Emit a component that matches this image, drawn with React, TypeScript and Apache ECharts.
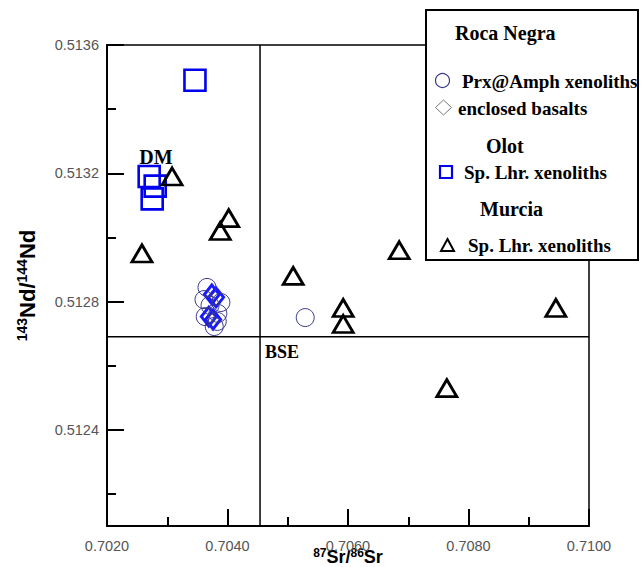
import React, { useEffect, useRef } from "react";
import * as echarts from "echarts";

// Axis ticks
const xMin = 0.702;
const xMax = 0.71;
const xInterval = 0.002;
const yMin = 0.5121;
const yMax = 0.5136;
const yMajorTicks = [0.5124, 0.5128, 0.5132, 0.5136];
const yMinorTicks = [0.5122, 0.5126, 0.513, 0.5134];

// Olot – Sp. Lhr. xenoliths (squares)
const olotSr = [0.70346, 0.7027, 0.7028, 0.70275];
const olotNd = [0.51349, 0.51319, 0.51316, 0.51312];

// Murcia – Sp. Lhr. xenoliths (triangles)
const murciaSr = [0.70308, 0.70258, 0.70402, 0.70388, 0.70509, 0.70685, 0.70592, 0.70592, 0.70945, 0.70764];
const murciaNd = [0.51319, 0.51295, 0.51306, 0.51302, 0.51288, 0.51296, 0.51278, 0.51273, 0.51278, 0.51253];

// Roca Negra – Prx@Amph xenoliths (circles)
const prxSr = [0.70366, 0.70361, 0.70389, 0.70384, 0.70383, 0.70378, 0.70363, 0.70371, 0.70529];
const prxNd = [0.512844, 0.512806, 0.512797, 0.512763, 0.512738, 0.512722, 0.512753, 0.512788, 0.51275];

// Roca Negra – enclosed basalts (diamonds)
const basaltSr = [0.70374, 0.70381, 0.70369, 0.70376];
const basaltNd = [0.512822, 0.512813, 0.512753, 0.512744];

// Reference lines (BSE)
const bseSr = 0.70454;
const bseNd = 0.51269;

const zip = (a: number[], b: number[]) => a.map((v, i) => [v, b[i]]);

const SERIF = '"Liberation Serif", "Times New Roman", serif';
const SANS = '"Liberation Sans", Arial, sans-serif';

export default function App() {
  const ref = useRef<HTMLDivElement>(null);
  useEffect(() => {
    if (!ref.current) return;
    const chart = echarts.init(ref.current, null, { renderer: "svg" });
    const legendText = (text: string, x: number, y: number, size: number) => ({
      type: "text",
      x,
      y,
      z: 101,
      style: {
        text,
        fontSize: size,
        fontWeight: "bold",
        fontFamily: SERIF,
        fill: "#000",
        align: "left",
        verticalAlign: "middle",
      },
    });
    const refLine = (data: number[][]) => ({
      type: "line",
      data,
      symbol: "none",
      silent: true,
      z: 1,
      lineStyle: { color: "#000", width: 1.5, type: "solid" },
    });
    const option: any = {
      animation: false,
      backgroundColor: "#fff",
      grid: {
        left: 107,
        top: 45,
        width: 482,
        height: 481,
        containLabel: false,
        outerBoundsMode: "none",
        show: true,
        borderColor: "#000",
        borderWidth: 1.5,
        backgroundColor: "transparent",
      },
      xAxis: {
        type: "value",
        min: xMin,
        max: xMax,
        interval: xInterval,
        name: "{sup|87}{b|Sr/}{sup|86}{b|Sr}",
        nameLocation: "middle",
        nameGap: 21,
        nameMoveOverlap: false,
        nameTextStyle: {
          rich: {
            sup: { fontSize: 12, fontWeight: "bold", fontFamily: SANS, color: "#000", verticalAlign: "top", lineHeight: 20 },
            b: { fontSize: 18, fontWeight: "bold", fontFamily: SANS, color: "#000", lineHeight: 20 },
          },
        },
        axisLine: { show: true, lineStyle: { color: "#000", width: 2 } },
        axisTick: { show: true, inside: true, length: 17, lineStyle: { color: "#000", width: 2 } },
        minorTick: { show: true, splitNumber: 2, length: 9, lineStyle: { color: "#000", width: 2 } },
        axisLabel: {
          margin: 12,
          color: "#555",
          fontSize: 14.5,
          fontFamily: SANS,
          formatter: (v: number) => v.toFixed(4),
        },
        splitLine: { show: false },
        minorSplitLine: { show: false },
      },
      yAxis: [
        {
          type: "value",
          position: "left",
          min: yMin,
          max: yMax,
          name: "{sup|143}{b|Nd/}{sup|144}{b|Nd}",
          nameLocation: "middle",
          nameGap: 68,
          nameRotate: 90,
          nameMoveOverlap: false,
          nameTextStyle: {
            rich: {
              sup: { fontSize: 14, fontWeight: "bold", fontFamily: SANS, color: "#000", verticalAlign: "top", lineHeight: 24 },
              b: { fontSize: 22, fontWeight: "bold", fontFamily: SANS, color: "#000", lineHeight: 24 },
            },
          },
          axisLine: { show: true, lineStyle: { color: "#000", width: 2 } },
          axisTick: {
            show: true,
            inside: true,
            length: 17,
            customValues: yMajorTicks,
            lineStyle: { color: "#000", width: 2 },
          },
          axisLabel: {
            margin: 8,
            color: "#555",
            fontSize: 14.5,
            fontFamily: SANS,
            customValues: yMajorTicks,
            formatter: (v: number) => v.toFixed(4),
          },
          splitLine: { show: false },
        },
        {
          type: "value",
          position: "left",
          min: yMin,
          max: yMax,
          axisLine: { show: false },
          axisLabel: { show: false },
          axisTick: {
            show: true,
            inside: true,
            length: 9,
            customValues: yMinorTicks,
            lineStyle: { color: "#000", width: 2 },
          },
          splitLine: { show: false },
        },
      ],
      series: [
        refLine([[bseSr, yMin], [bseSr, yMax]]),
        refLine([[xMin, bseNd], [xMax, bseNd]]),
        {
          name: "enclosed basalts",
          type: "scatter",
          z: 3,
          data: zip(basaltSr, basaltNd),
          symbol: "diamond",
          symbolSize: [15, 19],
          itemStyle: { color: "rgba(0,0,0,0)", borderColor: "#1a1aff", borderWidth: 3, opacity: 1 },
        },
        {
          name: "Prx@Amph xenoliths",
          type: "scatter",
          z: 4,
          data: zip(prxSr, prxNd),
          symbol: "circle",
          symbolSize: 18,
          itemStyle: { color: "rgba(0,0,0,0)", borderColor: "#3a3a8c", borderWidth: 1, opacity: 1 },
        },
        {
          name: "Olot Sp. Lhr. xenoliths",
          type: "scatter",
          z: 4,
          data: zip(olotSr, olotNd),
          symbol: "rect",
          symbolSize: 21,
          itemStyle: { color: "rgba(0,0,0,0)", borderColor: "#0000ee", borderWidth: 2.6, opacity: 1 },
        },
        {
          name: "Murcia Sp. Lhr. xenoliths",
          type: "scatter",
          z: 5,
          data: zip(murciaSr, murciaNd),
          symbol: "triangle",
          symbolSize: [20, 17],
          itemStyle: { color: "rgba(0,0,0,0)", borderColor: "#000", borderWidth: 2.8, opacity: 1 },
        },
      ],
      graphic: [
        {
          type: "text",
          x: 156,
          y: 157,
          z: 50,
          style: { text: "DM", fontSize: 20, fontWeight: "bold", fontFamily: SERIF, fill: "#000", align: "center", verticalAlign: "middle" },
        },
        {
          type: "text",
          x: 265,
          y: 352,
          z: 50,
          style: { text: "BSE", fontSize: 18, fontWeight: "bold", fontFamily: SERIF, fill: "#000", align: "left", verticalAlign: "middle" },
        },
        {
          type: "rect",
          z: 100,
          shape: { x: 426, y: 10, width: 212, height: 250 },
          style: { fill: "#fff", stroke: "#000", lineWidth: 2 },
        },
        legendText("Roca Negra", 455, 33, 20),
        {
          type: "circle",
          z: 101,
          shape: { cx: 442.5, cy: 80.5, r: 7 },
          style: { fill: "none", stroke: "#3a3a8c", lineWidth: 1.2 },
        },
        legendText("Prx@Amph xenoliths", 462, 81, 19),
        {
          type: "polygon",
          z: 101,
          shape: { points: [[443.5, 100], [451.5, 107.5], [443.5, 115], [435.5, 107.5]] },
          style: { fill: "none", stroke: "#777", lineWidth: 1 },
        },
        legendText("enclosed basalts", 458, 108, 19),
        legendText("Olot", 486, 146, 20),
        {
          type: "rect",
          z: 101,
          shape: { x: 440, y: 166, width: 12, height: 12 },
          style: { fill: "none", stroke: "#0000ee", lineWidth: 2.2 },
        },
        legendText("Sp. Lhr. xenoliths", 464, 172, 19),
        legendText("Murcia", 480, 209, 20),
        {
          type: "polygon",
          z: 101,
          shape: { points: [[447.5, 239], [454, 251], [441, 251]] },
          style: { fill: "none", stroke: "#000", lineWidth: 2 },
        },
        legendText("Sp. Lhr. xenoliths", 468, 245, 19),
      ],
    };
    chart.setOption(option);
    return () => chart.dispose();
  }, []);
  return (
    <div
      ref={ref}
      style={{ position: "absolute", left: 0, top: 0, width: 641, height: 567, background: "#fff" }}
    />
  );
}
